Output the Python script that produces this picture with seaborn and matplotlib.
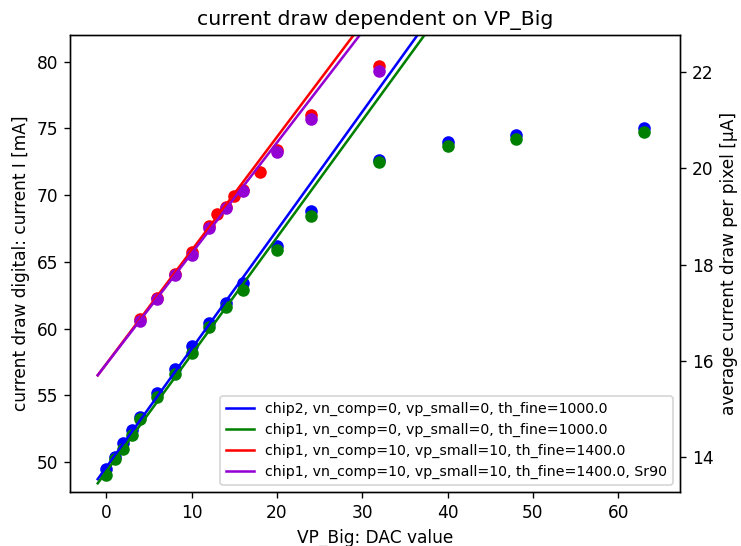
import numpy as np
import pandas as pd
import seaborn as sns
import matplotlib.pyplot as plt

# measured points, VP_Big scan
x_low = [0, 1, 2, 3, 4, 6, 8, 10, 12, 14, 16, 20, 24, 32, 40, 48, 63]
chip2_vn0 = [49.5, 50.4, 51.4, 52.4, 53.4, 55.2, 57.0, 58.7, 60.4, 61.9, 63.4,
             66.2, 68.8, 72.6, 74.0, 74.5, 75.0]
chip1_vn0 = [49.0, 50.2, 51.0, 52.0, 53.2, 54.9, 56.6, 58.2, 60.1, 61.6, 62.9,
             65.9, 68.4, 72.5, 73.7, 74.2, 74.7]

x_red = [4, 6, 8, 10, 12, 13, 14, 15, 16, 18, 20, 24, 32]
chip1_vn10 = [60.7, 62.3, 64.1, 65.7, 67.7, 68.6, 69.1, 69.95, 70.4, 71.7, 73.4, 76.0, 79.7]
x_sr = [4, 6, 8, 10, 12, 14, 16, 20, 24, 32]
chip1_vn10_sr90 = [60.6, 62.2, 64.0, 65.5, 67.5, 69.0, 70.3, 73.2, 75.7, 79.3]

# linear fits (slope, intercept)
fit_range = [-1, 64]
fits = {
    'chip2, vn_comp=0, vp_small=0, th_fine=1000.0': (0.888, 49.6),
    'chip1, vn_comp=0, vp_small=0, th_fine=1000.0': (0.877, 49.28),
    'chip1, vn_comp=10, vp_small=10, th_fine=1400.0': (0.85, 57.35),
    'chip1, vn_comp=10, vp_small=10, th_fine=1400.0, Sr90': (0.83, 57.33),
}
colors = ['blue', 'green', 'red', 'darkviolet']

series = [(x_low, chip2_vn0), (x_low, chip1_vn0), (x_red, chip1_vn10), (x_sr, chip1_vn10_sr90)]

dpi = 122
fig = plt.figure(figsize=(741 / dpi, 546 / dpi), dpi=dpi)
ax = fig.add_axes([70 / 741, 1 - 492 / 546, 610 / 741, 457 / 546])

for (xs, ys), c in zip(series, colors):
    sns.scatterplot(x=xs, y=ys, color=c, s=55, linewidth=0, ax=ax, legend=False, zorder=2)

xf = np.linspace(fit_range[0], fit_range[1], 200)
for (label, (m, b)), c in zip(fits.items(), colors):
    sns.lineplot(x=xf, y=m * xf + b, color=c, label=label, ax=ax, linewidth=1.5, zorder=3)

ax.set_xlim(-4.25, 67.25)
ylo, yhi = 47.75, 82.0
ax.set_ylim(ylo, yhi)
ax.set_xlabel('VP_Big: DAC value')
ax.set_ylabel('current draw digital: current I [mA]')
ax.set_title('current draw dependent on VP_Big')
ax.legend(loc='lower right', fontsize='small')

ax2 = ax.twinx()
ax2.set_ylim(ylo / 3.6, yhi / 3.6)
ax2.set_ylabel('average current draw per pixel [µA]')

plt.savefig('out.png', dpi=dpi)
